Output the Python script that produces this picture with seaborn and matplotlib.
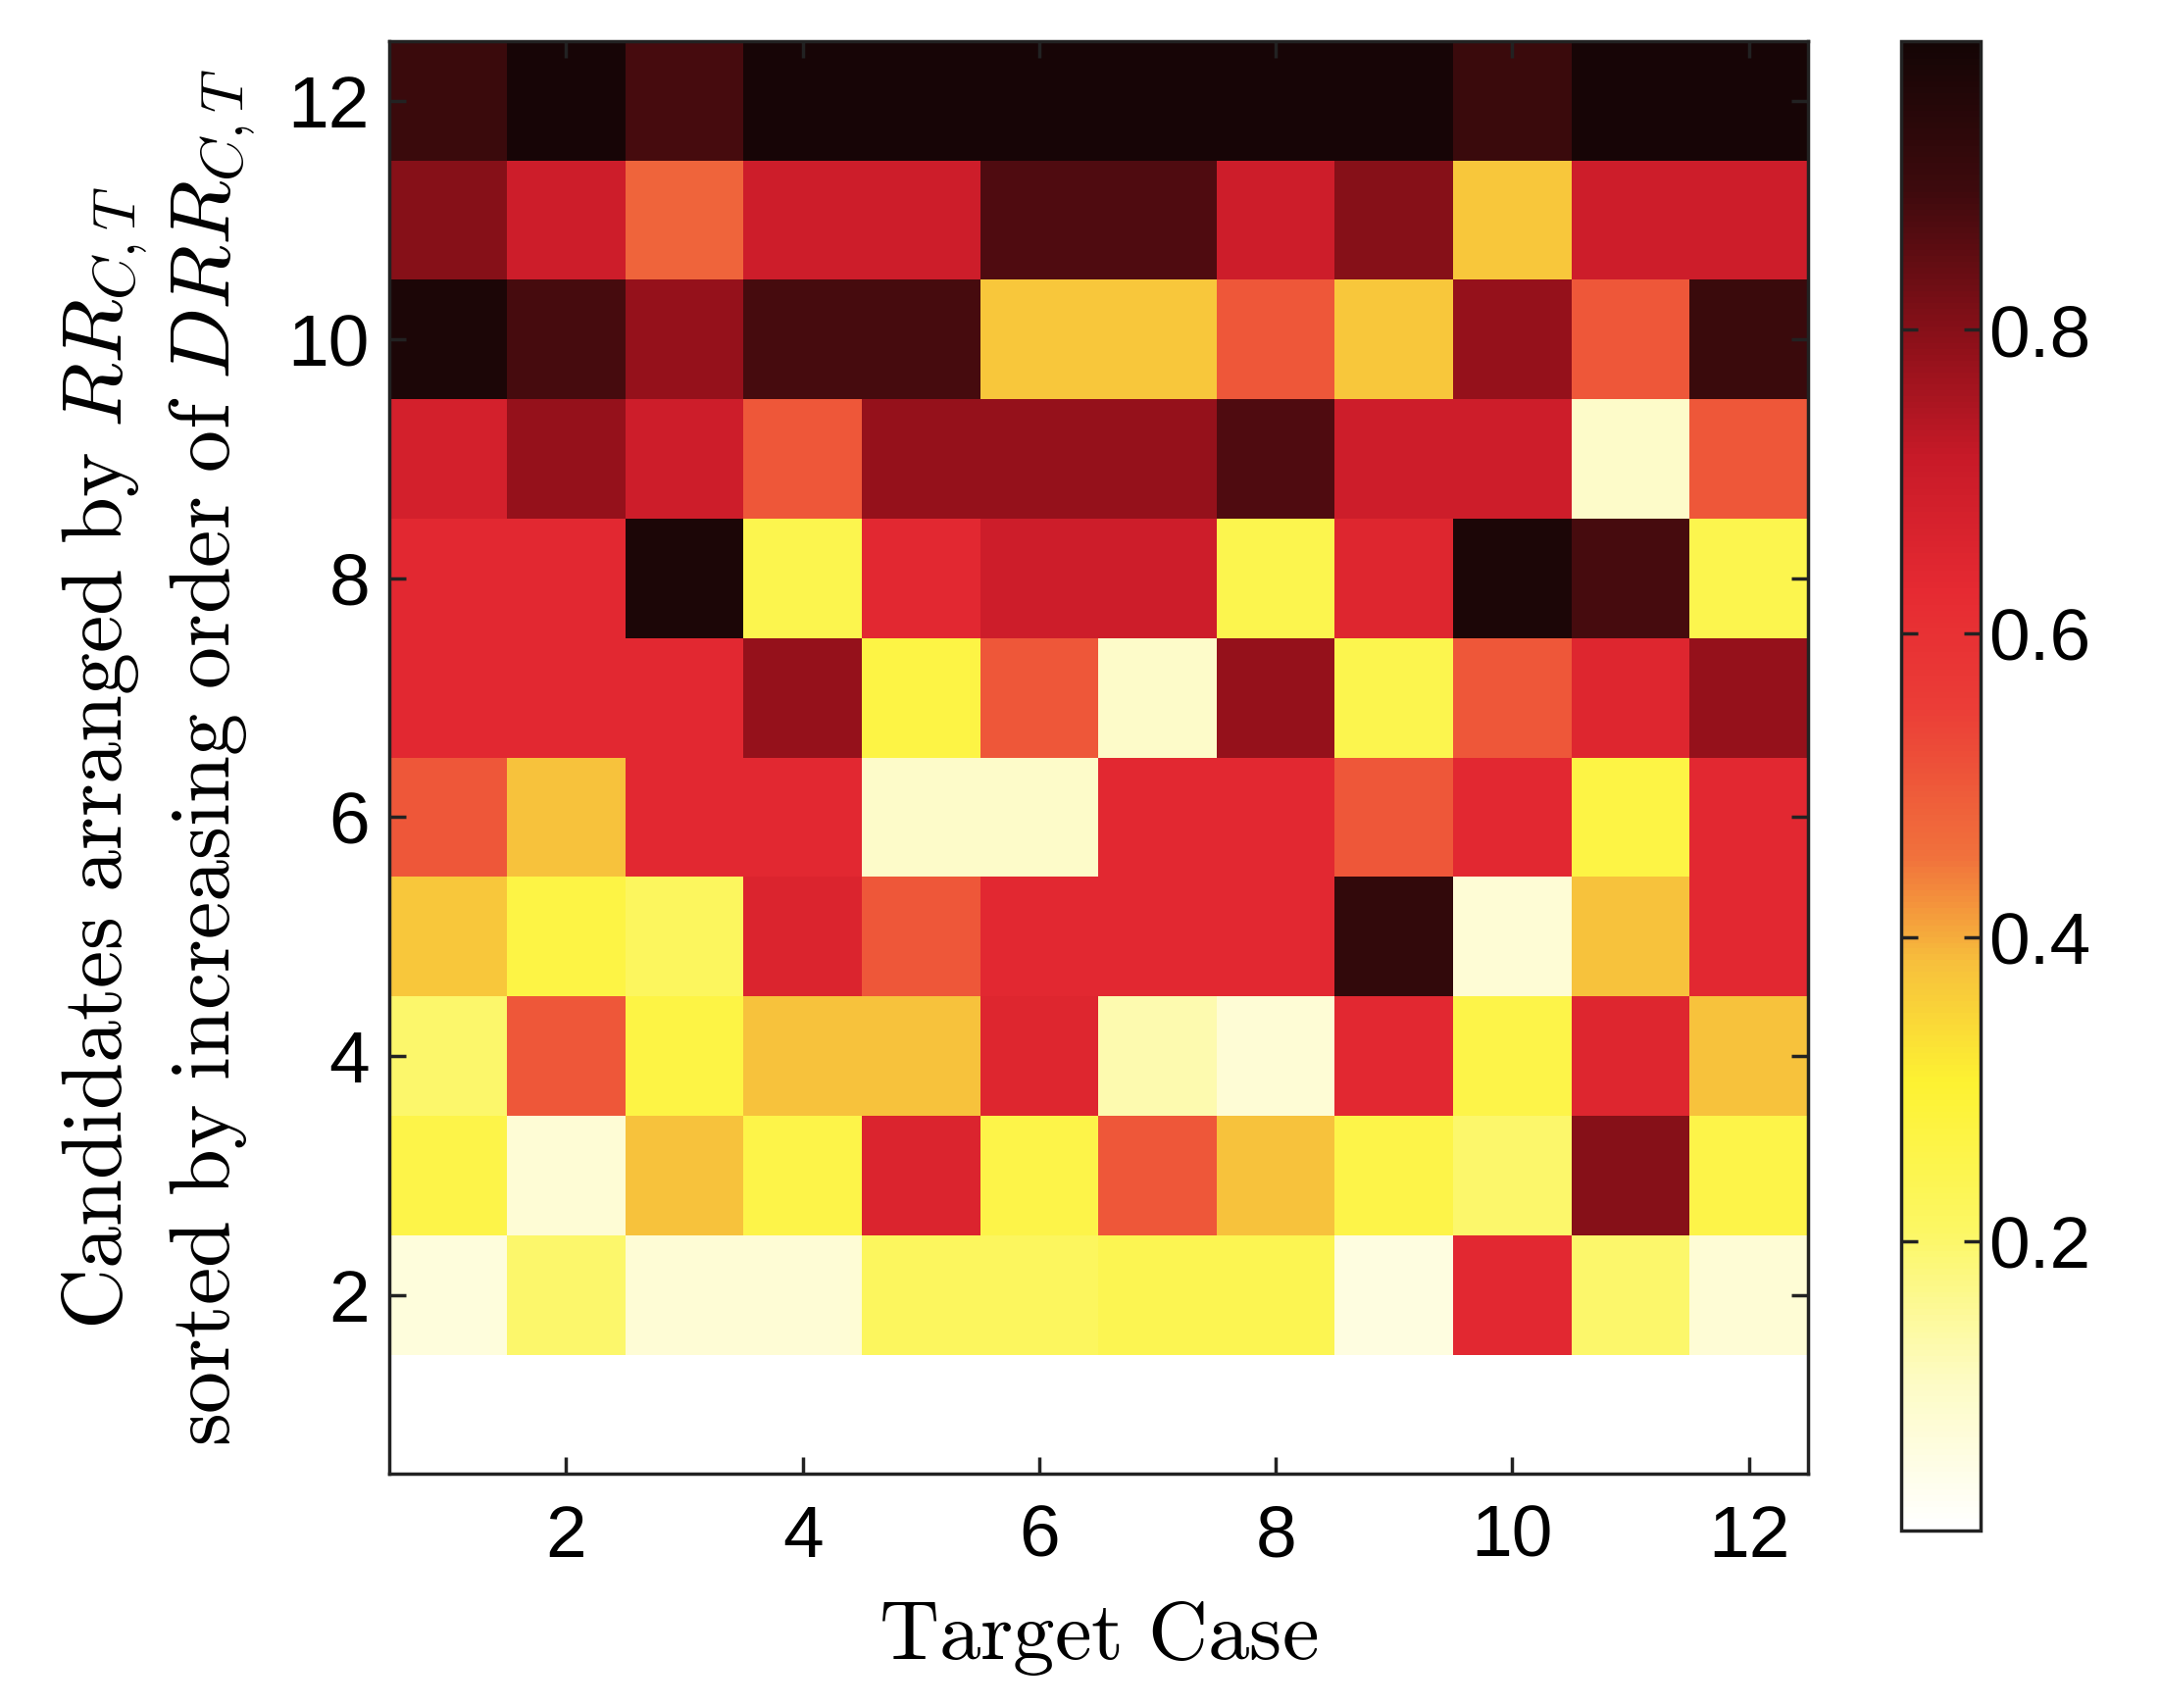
import numpy as np
import pandas as pd
import matplotlib
matplotlib.use("Agg")
import matplotlib.pyplot as plt
from matplotlib.colors import LinearSegmentedColormap
import seaborn as sns

# Target cases (columns) and candidates (rows)
target_cases = list(range(1, 13))
candidates = list(range(1, 13))

# Values per candidate row (row 1 = bottom ... row 12 = top), columns = target case 1..12
row_01 = [0.01] * 12
row_02 = [0.07, 0.20, 0.08, 0.08, 0.22, 0.22, 0.24, 0.24, 0.06, 0.64, 0.20, 0.08]
row_03 = [0.26, 0.08, 0.38, 0.26, 0.66, 0.26, 0.50, 0.38, 0.26, 0.20, 0.80, 0.26]
row_04 = [0.20, 0.50, 0.27, 0.38, 0.38, 0.65, 0.13, 0.08, 0.64, 0.26, 0.65, 0.38]
row_05 = [0.37, 0.27, 0.22, 0.66, 0.50, 0.64, 0.64, 0.64, 0.92, 0.08, 0.38, 0.64]
row_06 = [0.50, 0.38, 0.64, 0.64, 0.10, 0.10, 0.64, 0.64, 0.50, 0.64, 0.27, 0.64]
row_07 = [0.64, 0.64, 0.64, 0.78, 0.27, 0.50, 0.10, 0.78, 0.25, 0.50, 0.65, 0.78]
row_08 = [0.64, 0.64, 0.97, 0.25, 0.64, 0.70, 0.70, 0.25, 0.65, 0.97, 0.88, 0.25]
row_09 = [0.68, 0.78, 0.70, 0.50, 0.78, 0.78, 0.78, 0.87, 0.70, 0.70, 0.10, 0.50]
row_10 = [0.97, 0.88, 0.78, 0.88, 0.88, 0.37, 0.37, 0.50, 0.37, 0.78, 0.50, 0.90]
row_11 = [0.80, 0.70, 0.48, 0.70, 0.70, 0.87, 0.87, 0.70, 0.80, 0.37, 0.70, 0.70]
row_12 = [0.90, 0.98, 0.88, 0.98, 0.98, 0.98, 0.98, 0.98, 0.98, 0.90, 0.98, 0.98]

rows = [row_01, row_02, row_03, row_04, row_05, row_06,
        row_07, row_08, row_09, row_10, row_11, row_12]

tick_values = [2, 4, 6, 8, 10, 12]
cbar_ticks = [0.2, 0.4, 0.6, 0.8]

df = pd.DataFrame(rows, index=candidates, columns=target_cases).iloc[::-1]

# Softened inverted "hot" colormap as printed in the reference
cmap_stops = [
    (0.00, (255, 255, 255)),
    (0.10, (253, 251, 195)),
    (0.20, (252, 247, 100)),
    (0.30, (253, 242, 50)),
    (0.38, (247, 192, 60)),
    (0.45, (241, 115, 60)),
    (0.55, (235, 62, 55)),
    (0.63, (230, 42, 50)),
    (0.72, (200, 26, 40)),
    (0.80, (140, 16, 25)),
    (0.90, (62, 10, 13)),
    (1.00, (20, 5, 5)),
]
soft_hot = LinearSegmentedColormap.from_list(
    'soft_hot_r', [(p, tuple(c / 255 for c in rgb)) for p, rgb in cmap_stops])

plt.rcParams['mathtext.fontset'] = 'cm'
tick_font = ['Liberation Sans', 'DejaVu Sans']

fig = plt.figure(figsize=(22.03, 17.42), dpi=100)
ax = fig.add_axes([0.18, 0.137, 0.657, 0.839])
cax = fig.add_axes([0.88, 0.104, 0.037, 0.872])

sns.heatmap(df, ax=ax, cbar_ax=cax, cmap=soft_hot, vmin=0.01, vmax=0.99,
            xticklabels=False, yticklabels=False)

n = len(candidates)
ax.set_xticks([c - 0.5 for c in tick_values])
ax.set_xticklabels([str(t) for t in tick_values], fontsize=54, family=tick_font)
ax.set_yticks([n - r + 0.5 for r in tick_values])
ax.set_yticklabels([str(t) for t in tick_values], fontsize=54, family=tick_font,
                   rotation=0)
ax.tick_params(axis='both', direction='in', length=12, width=2.5, color='#222222',
               top=True, right=True, labeltop=False, labelright=False)
ax.tick_params(axis='x', pad=22)
ax.tick_params(axis='y', pad=14)
for sp in ax.spines.values():
    sp.set_visible(True)
    sp.set_linewidth(2.5)
    sp.set_color('#222222')

ax.set_xlabel(r'$\mathrm{Target\ Case}$', fontsize=61, labelpad=18)
ax.set_ylabel(r'$\mathrm{Candidates\ arranged\ by}\ RR_{C,T}$' + '\n' +
              r'$\mathrm{sorted\ by\ increasing\ order\ of}\ DRR_{C,T}$',
              fontsize=62, labelpad=22, linespacing=1.25)

cbar = ax.collections[0].colorbar
cbar.set_ticks(cbar_ticks)
cbar.set_ticklabels([f'{t:.1f}' for t in cbar_ticks])
cbar.outline.set_visible(True)
cbar.outline.set_linewidth(2.5)
cbar.outline.set_edgecolor('#222222')
cax.tick_params(direction='in', length=12, width=2.5, color='#222222',
                left=True, right=True, labelsize=54, pad=6)
for lab in cax.get_yticklabels():
    lab.set_family(tick_font)

fig.savefig('out.png', dpi=100, facecolor='white')
